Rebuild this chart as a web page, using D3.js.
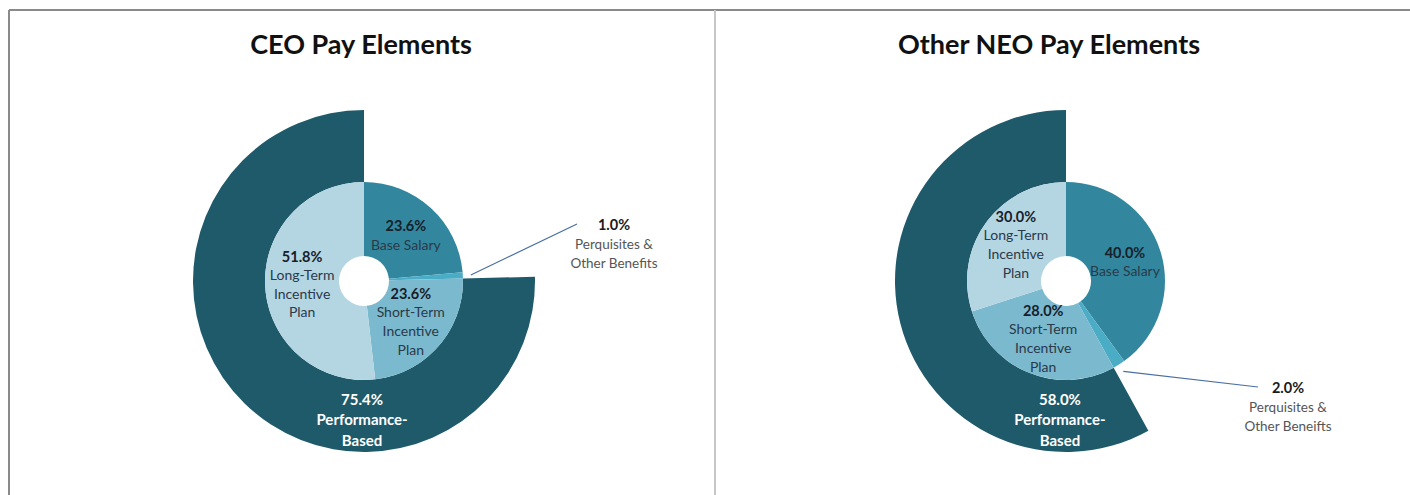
<!DOCTYPE html>
<html>
<head>
<meta charset="utf-8">
<script src="https://cdn.jsdelivr.net/npm/d3@7"></script>
<style>
  html, body { margin: 0; padding: 0; background: #ffffff; }
  svg { display: block; }
  text { font-family: Lato, "Open Sans", sans-serif; }
</style>
</head>
<body>
<svg id="chart" width="1410" height="495"></svg>
<script>
// Pay mix: each chart is split into the same four pay elements
const titles = ["CEO Pay Elements", "Other NEO Pay Elements"];
const elementNames = [
  ["Base Salary", "Perquisites & Other Benefits", "Short-Term Incentive Plan", "Long-Term Incentive Plan"],
  ["Base Salary", "Perquisites & Other Beneifts", "Short-Term Incentive Plan", "Long-Term Incentive Plan"]
];
const ceoValues = [23.6, 1.0, 23.6, 51.8];
const neoValues = [40.0, 2.0, 28.0, 30.0];
// Performance-based share (short-term + long-term incentive)
const performanceValues = [75.4, 58.0];
const performanceLabel = ["Performance-", "Based"];

// Label text split into lines for each element
const elementLabelLines = [
  [["Base Salary"], ["Perquisites &", "Other Benefits"], ["Short-Term", "Incentive", "Plan"], ["Long-Term", "Incentive", "Plan"]],
  [["Base Salary"], ["Perquisites &", "Other Beneifts"], ["Short-Term", "Incentive", "Plan"], ["Long-Term", "Incentive", "Plan"]]
];

const colors = ["#32879e", "#4bacc6", "#7ab9ce", "#b4d5e2"];
const ringColor = "#1f5a6a";

const svg = d3.select("#chart");

// Frame: top rule, left rule and the divider between the two panels
svg.append("line").attr("x1", 9).attr("x2", 1410).attr("y1", 10).attr("y2", 10)
  .attr("stroke", "#8a8a8a").attr("stroke-width", 2);
svg.append("line").attr("x1", 9).attr("x2", 9).attr("y1", 10).attr("y2", 495)
  .attr("stroke", "#8a8a8a").attr("stroke-width", 2);
svg.append("line").attr("x1", 715).attr("x2", 715).attr("y1", 10).attr("y2", 495)
  .attr("stroke", "#c6c6c6").attr("stroke-width", 2);

const panels = [
  { cx: 364, cy: 281, titleX: 361, values: ceoValues, perf: performanceValues[0],
    perfAngle: 180.8, calloutEnd: [213, -57], calloutLabelDx: 37 },
  { cx: 1066, cy: 281, titleX: 1049, values: neoValues, perf: performanceValues[1],
    perfAngle: 182.5, calloutEnd: [192, 106], calloutLabelDx: 30 }
];

const holeR = 25, pieR = 99, ringR = 171, lineH = 18.7;
const fmt = d => d3.format(".1f")(d) + "%";
const toRad = deg => deg * Math.PI / 180;

panels.forEach((p, i) => {
  // Title
  svg.append("text")
    .attr("x", p.titleX).attr("y", 54)
    .attr("text-anchor", "middle")
    .attr("font-size", 27).attr("font-weight", 700)
    .attr("fill", "#111")
    .text(titles[i]);

  const g = svg.append("g").attr("transform", `translate(${p.cx},${p.cy})`);

  // Outer ring for the performance-based portion, ending at 12 o'clock
  const ringArc = d3.arc().innerRadius(pieR).outerRadius(ringR);
  const ringStart = (1 - p.perf / 100) * 2 * Math.PI;
  g.append("path")
    .attr("d", ringArc({ startAngle: ringStart, endAngle: 2 * Math.PI }))
    .attr("fill", ringColor);

  // Inner doughnut of the four pay elements
  const pie = d3.pie().sort(null).value(d => d);
  const arcs = pie(p.values);
  const arc = d3.arc().innerRadius(holeR).outerRadius(pieR);
  g.selectAll("path.slice").data(arcs).join("path")
    .attr("class", "slice")
    .attr("d", arc)
    .attr("fill", (d, j) => colors[j]);

  // In-slice labels (all but the small perquisites slice)
  arcs.forEach((a, j) => {
    if (j === 1) return;
    const [x, y] = arc.centroid(a);
    const lines = [fmt(p.values[j])].concat(elementLabelLines[i][j]);
    const y0 = y - (lines.length - 1) * lineH / 2;
    const t = g.append("text").attr("text-anchor", "middle");
    lines.forEach((s, k) => {
      t.append("tspan")
        .attr("x", x).attr("y", y0 + k * lineH).attr("dy", "0.35em")
        .attr("font-size", k === 0 ? 14.5 : 14)
        .attr("font-weight", k === 0 ? 700 : 400)
        .attr("fill", k === 0 ? "#17202a" : "#2a3a4a")
        .text(s);
    });
  });

  // Ring label
  const pa = toRad(p.perfAngle), pr = 139;
  const px = pr * Math.sin(pa), py = -pr * Math.cos(pa);
  const ringLines = [fmt(p.perf)].concat(performanceLabel);
  const rt = g.append("text").attr("text-anchor", "middle").attr("font-size", 15)
    .attr("font-weight", 700).attr("fill", "#ffffff");
  ringLines.forEach((s, k) => {
    rt.append("tspan").attr("x", px).attr("y", py + (k - 1) * 20.5).attr("dy", "0.35em").text(s);
  });

  // Callout for the perquisites slice
  const perq = arcs[1];
  const mid = (perq.startAngle + perq.endAngle) / 2;
  const sx = 107 * Math.sin(mid), sy = -107 * Math.cos(mid);
  const [ex, ey] = p.calloutEnd;
  g.append("line")
    .attr("x1", sx).attr("y1", sy).attr("x2", ex).attr("y2", ey)
    .attr("stroke", "#4a6fa5").attr("stroke-width", 1.2);
  const lx = ex + p.calloutLabelDx;
  const ct = g.append("text").attr("text-anchor", "middle");
  [fmt(p.values[1])].concat(elementLabelLines[i][1]).forEach((s, k) => {
    ct.append("tspan")
      .attr("x", lx).attr("y", ey + 1 + k * 19).attr("dy", "0.35em")
      .attr("font-size", k === 0 ? 14.5 : 13.5)
      .attr("font-weight", k === 0 ? 700 : 400)
      .attr("fill", k === 0 ? "#1a1a1a" : "#555555")
      .text(s);
  });
});
</script>
</body>
</html>
